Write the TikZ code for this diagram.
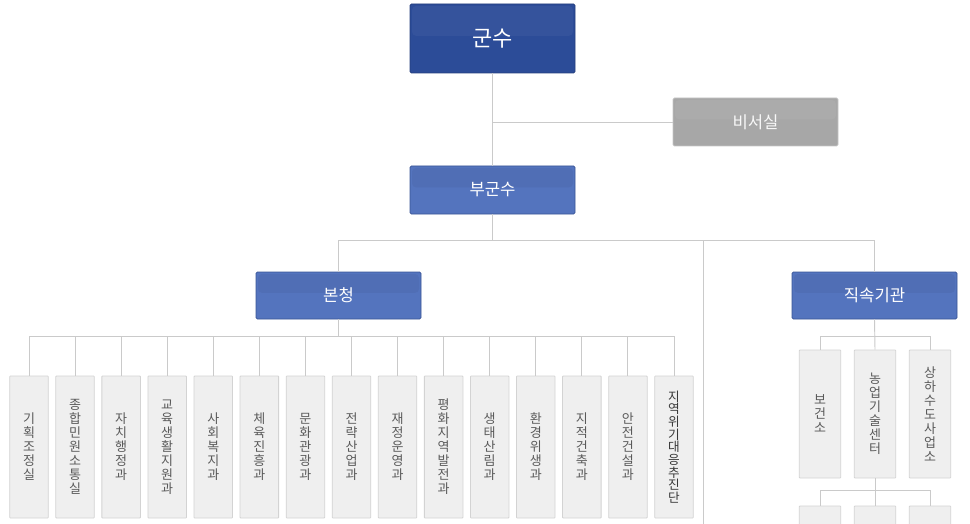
\documentclass[tikz,border=0pt]{standalone}
\usepackage{fontspec}
\setmainfont{Noto Sans CJK KR}
\usepackage{xcolor}
\usepackage{tikz}
\usetikzlibrary{positioning,calc}
\definecolor{Navy}{HTML}{2C4C98}
\definecolor{NavyEdge}{HTML}{263F7C}
\definecolor{Royal}{HTML}{5474BE}
\definecolor{RoyalEdge}{HTML}{3A5596}
\definecolor{Ash}{HTML}{A7A7A7}
\definecolor{AshEdge}{HTML}{C6C6C6}
\definecolor{Paper}{HTML}{EFEFEF}
\definecolor{PaperEdge}{HTML}{D3D3D3}
\definecolor{Rule}{HTML}{CACACA}
\definecolor{Muted}{HTML}{5A5A5A}

\tikzset{
  gloss/.style={path picture={\fill[#1, rounded corners=3pt]
    ([xshift=1.5pt, yshift=-1.5pt]path picture bounding box.north west) rectangle
    ([xshift=-1.5pt, yshift=2pt]path picture bounding box.east);}},
  headbox/.style={draw=RoyalEdge, fill=Royal, text=white, line width=0.6pt, rounded corners=1pt,
    inner sep=0pt, minimum width=123.75pt, minimum height=36pt,
    font=\fontsize{12.5}{14}\selectfont, gloss=Royal!95!black},
  topbox/.style={headbox, draw=NavyEdge, fill=Navy, minimum height=51.75pt,
    font=\fontsize{16.5}{18}\selectfont, gloss=Navy!96!white},
  graybox/.style={headbox, draw=AshEdge, fill=Ash, text=white!92!Ash, gloss=Ash!95!white},
  deptbox/.style={draw=PaperEdge, fill=Paper, text=Muted, line width=0.6pt, rounded corners=0.5pt,
    inner sep=0pt, minimum width=28.9pt, minimum height=106.5pt, align=center,
    font=\fontsize{9.75}{10.5}\selectfont},
  taskbox/.style={deptbox, text=black!78, font=\fontsize{9.5}{9.5}\selectfont},
  subbox/.style={deptbox, minimum width=31.1pt, minimum height=96pt},
  rule/.style={draw=Rule, line width=0.7pt}
}

\begin{document}
\begin{tikzpicture}[x=0.75pt, y=-0.75pt]
  \useasboundingbox (0,0) rectangle (970,524);

  % top of the chart
  \node[topbox] (gunsu) at (492.5,38.5) {\raisebox{-2.6pt}{군수}};
  \node[graybox] (biseo) at (755.5,122) {비서실};
  \node[headbox] (bugunsu) at (492.5,190) {부군수};
  \draw[rule] (gunsu.south) -- (bugunsu.north);
  \draw[rule] (gunsu.south |- biseo.west) -- (biseo.west);

  \node[headbox, minimum height=35.25pt] (boncheong) at (338.5,295.5) {본청};
  \node[headbox, minimum height=35.25pt] (jiksok) at (874.5,295.5) {직속기관};
  \coordinate (bus) at (492.5,240);
  \coordinate (branch) at (703,240);
  \coordinate (offpage) at (703,524);
  \draw[rule] (bugunsu.south) -- (bus);
  \draw[rule] (boncheong.north) |- (jiksok.north |- bus) -- (jiksok.north);
  \draw[rule] (branch) -- (offpage);

  % departments
  \coordinate (deptbus) at (338.5,336);
  \draw[rule] (boncheong.south) -- (deptbus);
  \foreach \dept [count=\i] in {기\\획\\조\\정\\실, 종\\합\\민\\원\\소\\통\\실, 자\\치\\행\\정\\과,
      교\\육\\생\\활\\지\\원\\과, 사\\회\\복\\지\\과, 체\\육\\진\\흥\\과, 문\\화\\관\\광\\과,
      전\\략\\산\\업\\과, 재\\정\\운\\영\\과, 평\\화\\지\\역\\발\\전\\과, 생\\태\\산\\림\\과,
      환\\경\\위\\생\\과, 지\\적\\건\\축\\과, 안\\전\\건\\설\\과} {
    \node[deptbox] (dept\i) at ({29+46.07*(\i-1)},447) {\dept};
    \draw[rule] (dept\i.north) -- (dept\i.north |- deptbus);
  }
  \node[taskbox] (dept15) at (674,447) {지\\역\\위\\기\\대\\응\\추\\진\\단};
  \draw[rule] (dept15.north) -- (dept15.north |- deptbus);
  \draw[rule] (dept1.north |- deptbus) -- (dept15.north |- deptbus);

  % offices under 직속기관
  \node[subbox] (bogeon) at (820,414) {보\\건\\소};
  \node[subbox] (nongup) at (875,414) {농\\업\\기\\술\\센\\터};
  \node[subbox] (sanghasu) at (930,414) {상\\하\\수\\도\\사\\업\\소};
  \coordinate (subbus) at (875,336.7);
  \draw[rule] (jiksok.south) -- (nongup.north);
  \draw[rule] (bogeon.north) |- (sanghasu.north |- subbus) -- (sanghasu.north);

  \node[subbox] (nong1) at (820,570) {};
  \node[subbox] (nong2) at (875,570) {};
  \node[subbox] (nong3) at (930,570) {};
  \coordinate (nongbus) at (875,490);
  \draw[rule] (nongup.south) -- (nong2.north);
  \draw[rule] (nong1.north) |- (nong3.north |- nongbus) -- (nong3.north);
\end{tikzpicture}
\end{document}
